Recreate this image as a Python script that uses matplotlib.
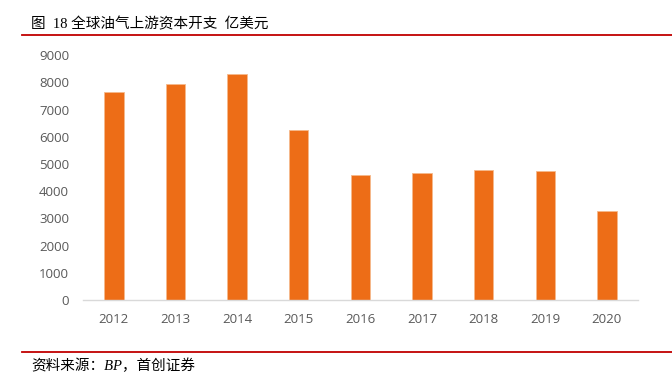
from matplotlib import pyplot as plt
from matplotlib.lines import Line2D

plt.rcParams['font.family'] = ['Noto Sans CJK SC', 'DejaVu Sans']
plt.rcParams['axes.unicode_minus'] = False

years = ['2012', '2013', '2014', '2015', '2016', '2017', '2018', '2019', '2020']
capex = [7660, 7930, 8300, 6250, 4600, 4660, 4780, 4740, 3260]
y_ticks = [0, 1000, 2000, 3000, 4000, 5000, 6000, 7000, 8000, 9000]

title = '图  18 全球油气上游资本开支  亿美元'
source = '资料来源：BP，首创证券'

fig = plt.figure(figsize=(6.72, 3.8), dpi=100)
ax = fig.add_axes([0.1235, 0.2105, 0.8255, 0.6445])

x = range(len(years))
ax.bar(x, capex, width=0.315, color='#ED6D17', edgecolor='#F6B98C', linewidth=0.6, zorder=2)

ax.set_xlim(-0.5, len(years) - 0.5)
ax.set_ylim(0, 9000)
ax.set_xticks(list(x))
ax.set_xticklabels(years, fontsize=9.5, color='#595959', family=['Open Sans', 'DejaVu Sans'])
ax.set_yticks(y_ticks)
ax.set_yticklabels([str(v) for v in y_ticks], fontsize=9.5, color='#595959', family=['Open Sans', 'DejaVu Sans'])
ax.tick_params(axis='both', length=0)
ax.tick_params(axis='x', pad=9)
ax.tick_params(axis='y', pad=10)

for s in ['top', 'right', 'left']:
    ax.spines[s].set_visible(False)
ax.spines['bottom'].set_color('#D9D9D9')
ax.spines['bottom'].set_linewidth(1)

# 标题和红线
fig.text(31 / 672, 1 - 24 / 380, title, fontsize=10.5, color='black', va='center',
         family=['Liberation Serif', 'Noto Sans CJK SC'])
fig.add_artist(Line2D([22 / 672, 1], [1 - 35 / 380, 1 - 35 / 380], color='#C00000', linewidth=1.3))
fig.add_artist(Line2D([22 / 672, 1], [1 - 352 / 380, 1 - 352 / 380], color='#C00000', linewidth=1.3))
fig.text(31 / 672, 1 - 366 / 380, source, fontsize=10.5, color='black', va='center', style='italic',
         family=['Liberation Serif', 'Noto Sans CJK SC'])

plt.savefig('out.png', dpi=100)
